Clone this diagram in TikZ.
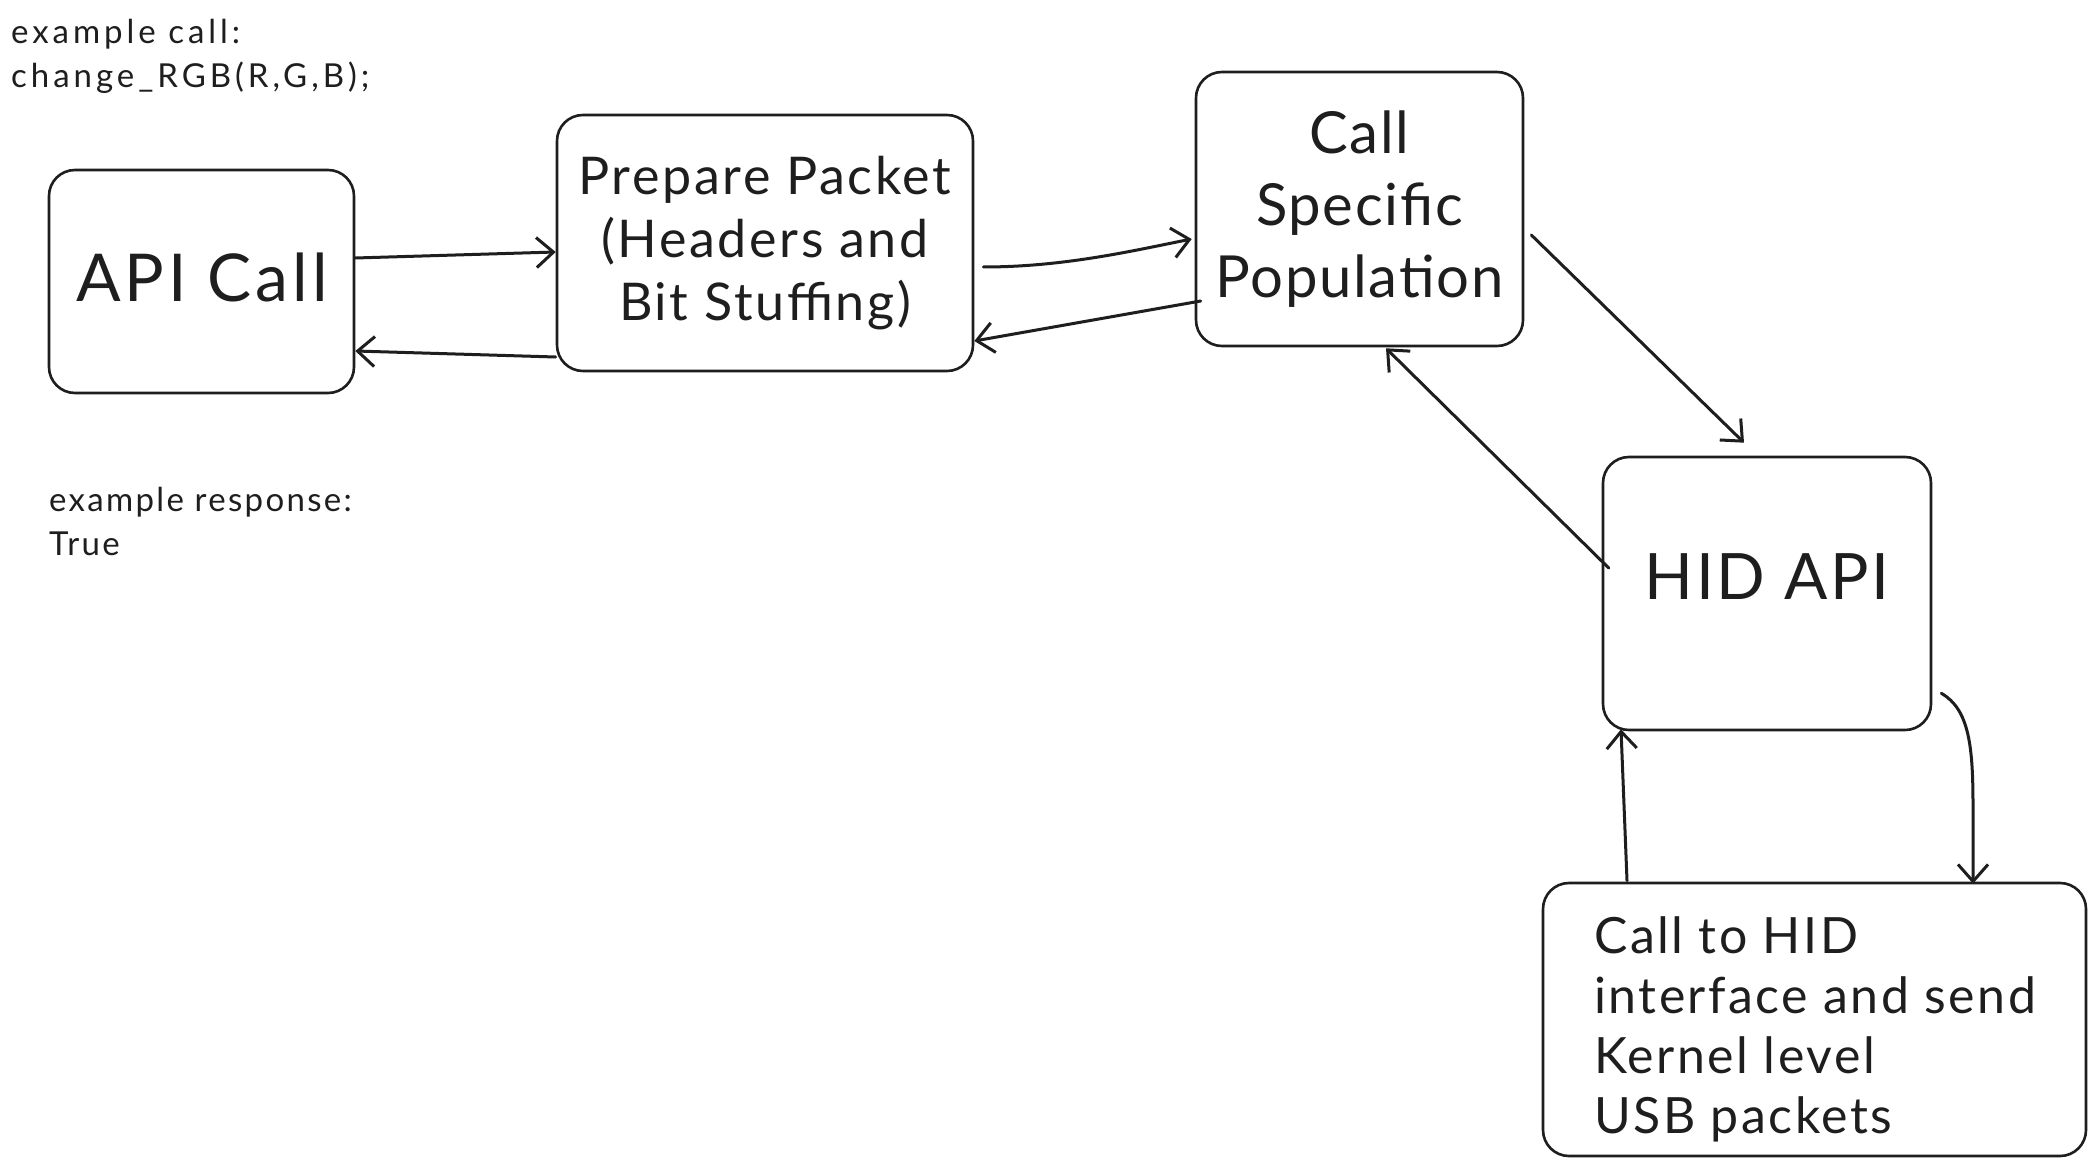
\documentclass[tikz,border=0pt]{standalone}
\usepackage{fontspec}
\setmainfont{Lato}
\usetikzlibrary{arrows.meta}
\definecolor{ink}{HTML}{1E1E1E}
\newcommand{\ls}[1]{\addfontfeatures{LetterSpace=#1}}
\tikzset{
  box/.style={draw=ink, line width=2.6pt, rounded corners=26pt, inner sep=0pt, align=center, text=ink},
  conn/.style={draw=ink, line width=3pt, line cap=round, -{Straight Barb[length=17pt,width=30pt,line width=3pt]}},
  note/.style={text=ink, align=left, inner sep=0pt}
}
\begin{document}
\begin{tikzpicture}[x=1pt,y=-1pt]
\useasboundingbox[fill=white] (0,0) rectangle (2095,1166);
\node[box, minimum width=305pt, minimum height=223pt] (api) at (201.5,281.5) {};
\node[text=ink, font=\fontsize{66}{70}\selectfont\ls{6}] (apit) at (202,277) {API Call};
\node[box, minimum width=416pt, minimum height=256pt, font=\fontsize{52}{63}\selectfont\ls{5}] (prep) at (765,243) {Prepare Packet\\(Headers and\\Bit Stuffing)};
\node[box, minimum width=327pt, minimum height=274pt, font=\fontsize{58}{72}\selectfont\ls{3}] (csp) at (1359.5,209) {Call\\Specific\\Population};
\node[box, minimum width=328pt, minimum height=273pt] (hid) at (1767,593.5) {};
\node[text=ink, font=\fontsize{64}{70}\selectfont\ls{4}] (hidt) at (1767,577) {HID API};
\node[box, minimum width=543pt, minimum height=273pt] (usb) at (1814.5,1019.5) {};
\node[text=ink, align=left, anchor=west, inner sep=0pt, font=\fontsize{50}{60}\selectfont\ls{5}] (usbt) at (1594,1029) {Call to HID\\interface and send\\Kernel level\\USB packets};
\node[note, anchor=north west, font=\fontsize{33}{44}\selectfont\ls{12}] (ex) at (11,19) {example call:\\change\_RGB(R,G,B);};
\node[note, anchor=north west, font=\fontsize{33}{44}\selectfont\ls{7}] (resp) at (49,487) {example response:\\True};

\draw[conn] ([yshift=23.5pt]api.east) -- ([yshift=-9pt]prep.west);
\draw[conn] ([yshift=-114pt]prep.west) -- ([yshift=-69.5pt]api.east);
\draw[conn] ([xshift=9pt,yshift=-24pt]prep.east) .. controls +(80,0) and +(-60,12) .. ([xshift=-3pt,yshift=-30pt]csp.west);
\draw[conn] ([xshift=6pt,yshift=-92pt]csp.west) -- ([yshift=-98pt]prep.east);
\draw[conn] ([xshift=7pt,yshift=-26pt]csp.east) -- ([xshift=-23pt,yshift=13pt]hid.north);
\draw[conn] ([xshift=7pt,yshift=25.5pt]hid.west) -- ([xshift=26.5pt,yshift=-1pt]csp.south);
\draw[conn] ([xshift=9pt,yshift=38pt]hid.south east) .. controls +(28,16) and +(0,-60) .. ([xshift=158.5pt,yshift=75pt]usb.north) -- ([xshift=158.5pt,yshift=-2pt]usb.north);
\draw[conn] ([xshift=-187.5pt,yshift=1pt]usb.north) -- ([xshift=-146pt,yshift=2pt]hid.south);
\end{tikzpicture}
\end{document}
